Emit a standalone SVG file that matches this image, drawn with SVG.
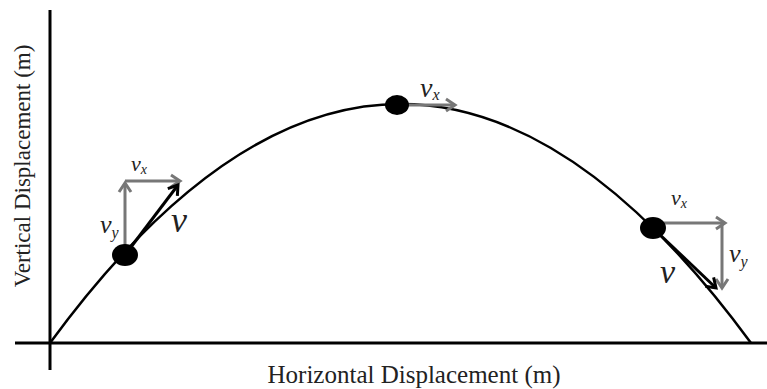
<svg xmlns="http://www.w3.org/2000/svg" width="767" height="389" viewBox="0 0 767 389">
<style>
.axis{stroke:#000;stroke-width:3;fill:none}
.curve{stroke:#000;stroke-width:2.5;fill:none}
.g{stroke:#777;stroke-width:3;fill:none;marker-end:url(#ag)}
.b{stroke:#000;stroke-width:3;fill:none;marker-end:url(#ab)}
.lab{font-family:"Liberation Serif","Times New Roman",serif;fill:#222}
.it{font-style:italic}
.dot{fill:#000}
</style>
<defs>
<marker id="ag" markerUnits="userSpaceOnUse" markerWidth="16" markerHeight="16" refX="11" refY="7" orient="auto" viewBox="0 0 16 14">
<path d="M2,1 L11,7 L2,13" stroke="#777" stroke-width="3" fill="none"/>
</marker>
<marker id="ab" markerUnits="userSpaceOnUse" markerWidth="16" markerHeight="16" refX="11" refY="7" orient="auto" viewBox="0 0 16 14">
<path d="M2,1 L11,7 L2,13" stroke="#000" stroke-width="3" fill="none"/>
</marker>
</defs>
<g id="axes">
<line class="axis" x1="50" y1="10" x2="50" y2="370"/>
<line class="axis" x1="15" y1="343" x2="767" y2="343"/>
<text class="lab" x="414" y="383" font-size="25" text-anchor="middle">Horizontal Displacement (m)</text>
<text class="lab" transform="translate(30,166) rotate(-90)" font-size="23" text-anchor="middle">Vertical Displacement (m)</text>
</g>
<g id="trajectory">
<path class="curve" d="M50,343 Q400.5,-135 751,343"/>
</g>
<g id="connectors">
<line class="g" x1="125" y1="255" x2="125" y2="183"/>
<line class="g" x1="125" y1="181" x2="180" y2="181"/>
<line class="b" x1="128" y1="251" x2="178" y2="185"/>
<line class="g" x1="397" y1="105" x2="455" y2="105"/>
<line class="g" x1="653" y1="223" x2="725" y2="223"/>
<line class="g" x1="722" y1="223" x2="722" y2="288"/>
<line class="b" x1="656" y1="231" x2="716" y2="288"/>
</g>
<g id="point-left">
<ellipse class="dot" cx="125" cy="255" rx="13" ry="11"/>
<text class="lab it" x="131" y="171" font-size="22">v<tspan font-size="14" dy="3">x</tspan></text>
<text class="lab it" x="100" y="233" font-size="26">v<tspan font-size="16" dy="5">y</tspan></text>
<text class="lab it" x="171" y="232" font-size="36">v</text>
</g>
<g id="point-top">
<ellipse class="dot" cx="397" cy="105" rx="12" ry="10"/>
<text class="lab it" x="420" y="97" font-size="28">v<tspan font-size="16" dy="3">x</tspan></text>
</g>
<g id="point-right">
<ellipse class="dot" cx="653" cy="228" rx="13" ry="11"/>
<text class="lab it" x="671" y="205" font-size="22">v<tspan font-size="14" dy="3">x</tspan></text>
<text class="lab it" x="729" y="262" font-size="26">v<tspan font-size="16" dy="5">y</tspan></text>
<text class="lab it" x="660" y="283" font-size="34">v</text>
</g>
</svg>
